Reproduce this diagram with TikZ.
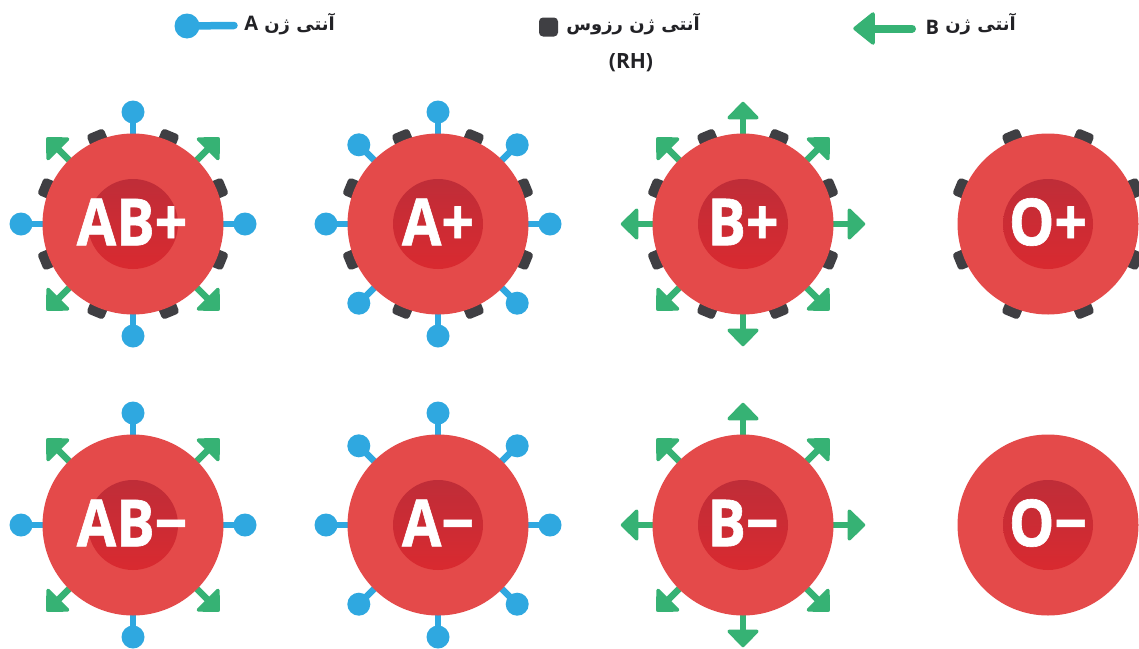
\documentclass[tikz,border=0pt]{standalone}
\usepackage{fontspec}
\usetikzlibrary{calc}
\TeXXeTstate=1
\newfontfamily\labelfont[Script=Arabic]{DejaVu Sans}
\newfontfamily\latinfont{Open Sans}
\newfontfamily\cellfont{Open Sans}[BoldFeatures={FakeBold=1}]
\definecolor{cellred}{HTML}{E44A4A}
\definecolor{coretop}{HTML}{BF2D38}
\definecolor{corebottom}{HTML}{D92A30}
\definecolor{pinblue}{HTML}{2FA8E0}
\definecolor{arrowgreen}{HTML}{36B274}
\definecolor{rhgrey}{HTML}{3F3F43}
\definecolor{inkdark}{HTML}{222226}
\tikzset{
  cellbody/.style={circle,fill=cellred,minimum size=181pt,inner sep=0pt},
  cellcore/.style={circle,shading=axis,top color=coretop,bottom color=corebottom,minimum size=90pt,inner sep=0pt},
  celltext/.style={text=white,font=\cellfont\bfseries\fontsize{65}{65}\selectfont,inner sep=0pt},
  pinhead/.style={circle,fill=pinblue,minimum size=23pt,inner sep=0pt},
  pinline/.style={draw=pinblue,line width=6.5pt},
  shaftline/.style={draw=arrowgreen,line width=6.5pt},
  arrowfill/.style={fill=arrowgreen,draw=arrowgreen,line width=3.5pt,line join=round},
  rhmark/.style={fill=rhgrey,rounded corners=3.5pt,minimum width=14pt,minimum height=18.5pt,inner sep=0pt},
  legendtext/.style={text=inkdark,inner sep=0pt,font=\labelfont\bfseries\fontsize{18}{20}\selectfont},
}
% A-type antigen: a round head on a short stem
\newcommand{\bluepin}[3]{%
  \node[pinhead] (#1h) at ($(#2)+(#3:112)$) {};
  \draw[pinline] (#2) -- (#1h.center);}
% B-type antigen: a stem ending in a right-angled head
\newcommand{\greenpin}[3]{%
  \coordinate (#1b) at ($(#2)+(#3:106)$);
  \draw[shaftline] (#2) -- (#1b);
  \begin{scope}[shift={(#2)},rotate=-#3]
    \path[arrowfill] (106.3,-13.8) -- (120.5,0) -- (106.3,13.8) -- cycle;
  \end{scope}}
% Rhesus antigen: a small rounded block on the rim
\newcommand{\rhblock}[3]{%
  \node[rhmark,rotate=-#3] (#1r) at ($(#2)+(#3:93)$) {};}
% Cell body, core and blood group label, drawn over the antigens
\newcommand{\cellbody}[3]{%
  \node[cellbody] (#1body) at (#1) {};
  \node[cellcore] (#1core) at (#1) {};
  \node[celltext] (#1text) at ($(#1)+(#2,-2)$) {\scalebox{.88}[1]{#3}};}
\newcommand{\rhring}[1]{%
  \foreach \a in {22.5,67.5,...,337.5} {\rhblock{#1\a}{#1}{\a}}}
\newcommand{\axisblue}[1]{%
  \foreach \a in {0,90,180,270} {\bluepin{#1\a}{#1}{\a}}}
\newcommand{\diagblue}[1]{%
  \foreach \a in {45,135,225,315} {\bluepin{#1\a}{#1}{\a}}}
\newcommand{\axisgreen}[1]{%
  \foreach \a in {0,90,180,270} {\greenpin{#1\a}{#1}{\a}}}
\newcommand{\diaggreen}[1]{%
  \foreach \a in {45,135,225,315} {\greenpin{#1\a}{#1}{\a}}}
\begin{document}
\begin{tikzpicture}[x=1pt,y=-1pt]
  \useasboundingbox (0,0) rectangle (1139,648);
  \fill[white] (0,0) rectangle (1139,648);

  % legend
  \node[pinhead,minimum size=25pt] (legA) at (187,26) {};
  \coordinate (legAend) at (234,25.5);
  \draw[draw=pinblue,line width=7.5pt,line cap=round] (legA.center) -- (legAend);
  \node[legendtext,anchor=east] (legAtext) at (335,24) {\beginR آنتی ژن \beginL{\latinfont\fontsize{20}{20}\selectfont A}\endL\endR};
  \node[fill=rhgrey,rounded corners=4pt,minimum size=19pt,inner sep=0pt] (legRh) at (548.5,27) {};
  \node[legendtext,anchor=east] (legRhtext) at (700,24) {\beginR آنتی ژن رزوس\endR};
  \node[text=inkdark,inner sep=0pt,font=\latinfont\bfseries\fontsize{21}{22}\selectfont] (legRH) at (631,63) {(RH)};
  \coordinate (legBend) at (912,28.5);
  \coordinate (legBbase) at (870,28.5);
  \draw[draw=arrowgreen,line width=8pt,line cap=round] (legBbase) -- (legBend);
  \path[arrowfill] (873,14) -- (855,28.5) -- (873,43) -- cycle;
  \node[legendtext,anchor=east] (legBtext) at (1016,24) {\beginR آنتی ژن \beginL\raisebox{-4pt}{\latinfont\fontsize{20}{20}\selectfont B}\endL\endR};

  % cell centres
  \coordinate (abp) at (133,224);
  \coordinate (ap)  at (438,224);
  \coordinate (bp)  at (743,224);
  \coordinate (op)  at (1048,224);
  \coordinate (abn) at (133,525);
  \coordinate (an)  at (438,525);
  \coordinate (bn)  at (743,525);
  \coordinate (on)  at (1048,525);

  % antigens on the rims
  \axisblue{abp}\diaggreen{abp}\rhring{abp}
  \axisblue{ap}\diagblue{ap}\rhring{ap}
  \axisgreen{bp}\diaggreen{bp}\rhring{bp}
  \rhring{op}
  \axisblue{abn}\diaggreen{abn}
  \axisblue{an}\diagblue{an}
  \axisgreen{bn}\diaggreen{bn}

  % cell bodies and blood group labels
  \cellbody{abp}{-1}{AB+}
  \cellbody{ap}{0}{A+}
  \cellbody{bp}{0}{B+}
  \cellbody{op}{0}{O+}
  \cellbody{abn}{-1}{AB−}
  \cellbody{an}{0}{A−}
  \cellbody{bn}{0}{B−}
  \cellbody{on}{0}{O−}
\end{tikzpicture}
\end{document}
